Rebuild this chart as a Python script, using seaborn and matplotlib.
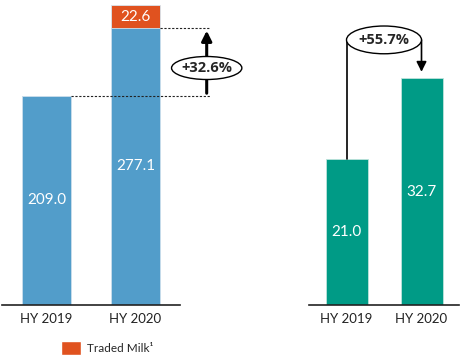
import matplotlib
matplotlib.use("Agg")
import matplotlib.pyplot as plt
from matplotlib.patches import Ellipse, Patch
import seaborn as sns
import pandas as pd

# data
years = ["HY 2019", "HY 2020"]
milk_own = [209.0, 277.1]
milk_traded = [0.0, 22.6]
right_vals = [21.0, 32.7]
left_growth = "+32.6%"
right_growth = "+55.7%"

BLUE = "#529DCA"
ORANGE = "#E0521F"
TEAL = "#009B86"

sns.set_style("white")
plt.rcParams["font.family"] = ["Lato", "DejaVu Sans"]

W, H = 469, 364
fig = plt.figure(figsize=(W / 100, H / 100), dpi=100)

# left panel: 1 unit = 1 px
ax1 = fig.add_axes([2 / W, 59 / H, 178 / W, 305 / H])
# right panel
ax2 = fig.add_axes([309 / W, 59 / H, 150 / W, 305 / H])

df_left = pd.DataFrame({"year": years,
                        "own": milk_own,
                        "total": [a + b for a, b in zip(milk_own, milk_traded)]})
df_right = pd.DataFrame({"year": years, "val": right_vals})

sns.barplot(data=df_left, x="year", y="total", color=ORANGE, width=0.55,
            saturation=1, edgecolor="#d8e6f0", linewidth=0.6, ax=ax1)
sns.barplot(data=df_left, x="year", y="own", color=BLUE, width=0.55,
            saturation=1, edgecolor="#cfe2ef", linewidth=0.6, ax=ax1)
sns.barplot(data=df_right, x="year", y="val", color=TEAL, width=0.56,
            saturation=1, edgecolor="#bfe3dc", linewidth=0.6, ax=ax2)

ax1.set_xlim(-0.5, 1.5)
ax1.set_ylim(0, 305)
ax2.set_xlim(-0.5, 1.5)
ax2.set_ylim(0, 305 / 6.94)

for ax in (ax1, ax2):
    sns.despine(ax=ax, left=True, top=True, right=True)
    ax.spines["bottom"].set_color("#222222")
    ax.spines["bottom"].set_linewidth(1.2)
    ax.set_yticks([])
    ax.set_xlabel("")
    ax.set_ylabel("")
    ax.tick_params(axis="x", length=0, pad=6, labelsize=9.5, colors="#222222")

# value labels
for i, v in enumerate(milk_own):
    ax1.text(i, v / 2, f"{v:.1f}", ha="center", va="center",
             color="white", fontsize=11)
ax1.text(1, milk_own[1] + milk_traded[1] / 2, f"{milk_traded[1]:.1f}",
         ha="center", va="center", color="white", fontsize=11)
for i, v in enumerate(right_vals):
    ax2.text(i, v / 2, f"{v:.1f}", ha="center", va="center",
             color="white", fontsize=11)

# left growth annotation
ax1.plot([0.275, 1.84], [milk_own[0]] * 2, ls=(0, (2, 1.5)), lw=0.8,
         color="#222222", clip_on=False)
ax1.plot([1.275, 1.84], [milk_own[1]] * 2, ls=(0, (2, 1.5)), lw=0.8,
         color="#222222", clip_on=False)
ax1.annotate("", xy=(1.80, milk_own[1]), xytext=(1.80, milk_own[0]),
             arrowprops=dict(arrowstyle="-|>,head_width=0.3,head_length=0.6",
                             lw=2.2, color="black"),
             annotation_clip=False)
ell = Ellipse((1.80, 237), 0.79, 23, facecolor="white", edgecolor="black",
              lw=1.0, clip_on=False, zorder=5)
ax1.add_patch(ell)
ax1.text(1.80, 237, left_growth, ha="center", va="center", fontsize=10.5,
         fontweight="bold", family="Open Sans", zorder=6, clip_on=False)

# right growth annotation
top_y = 38.2
ax2.plot([0, 0], [right_vals[0], top_y], color="black", lw=1.2,
         clip_on=False)
ax2.annotate("", xy=(1, right_vals[1] + 0.9), xytext=(1, top_y),
             arrowprops=dict(arrowstyle="-|>,head_width=0.3,head_length=0.6",
                             lw=1.2, color="black", shrinkA=0, shrinkB=0),
             annotation_clip=False)
ell2 = Ellipse((0.5, top_y), 1.0, 4.0, facecolor="white", edgecolor="black",
               lw=1.0, clip_on=False, zorder=5)
ax2.add_patch(ell2)
ax2.text(0.5, top_y, right_growth, ha="center", va="center", fontsize=10.5,
         fontweight="bold", family="Open Sans", zorder=6, clip_on=False)

# legend
fig.legend(handles=[Patch(facecolor=ORANGE, label="Traded Milk¹")],
           loc="center left", bbox_to_anchor=(50 / W, 1 - 348 / H),
           frameon=False, fontsize=8.5, handlelength=1.7, handleheight=1.5,
           handletextpad=0.5)

fig.savefig("out.png", dpi=100)
